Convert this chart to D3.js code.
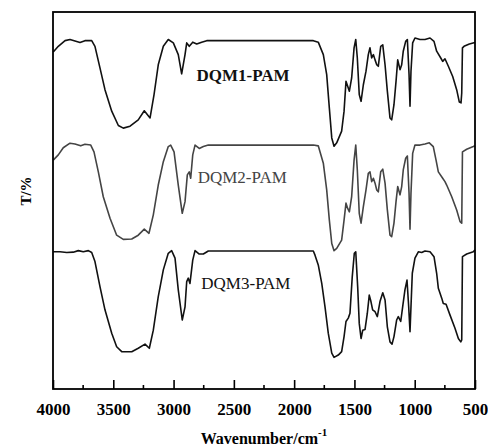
<!DOCTYPE html>
<html>
<head>
<meta charset="utf-8">
<script src="https://cdn.jsdelivr.net/npm/d3@7"></script>
<style>
    body{margin:0;background:#fff;}
    svg text{font-family:"Liberation Serif","Times New Roman",serif;}
</style>
</head>
<body>
<div class="IrPic"></div>
<script>
// 三条红外光谱 [波数, T]
let dqm1 = [[3998,89.4],[3956,90.9],[3900,92.4],[3859,92.7],[3776,91.9],[3735,92.4],[3679,92.4],[3652,90.9],
    [3610,85.1],[3569,79.4],[3513,73.7],[3458,69.9],[3417,69.2],[3361,69.7],[3293,71.4],[3243,73.8],[3195,71.9],
    [3162,78.1],[3127,86.0],[3085,90.9],[3044,92.7],[3002,91.8],[2961,88.7],[2933,83.6],[2905,88.7],[2891,91.8],
    [2870,90.9],[2841,92.0],[2808,91.5],[2767,92.0],[2725,92.4],[1841,92.4],[1800,92.0],[1758,88.7],[1730,83.4],
    [1708,74.5],[1688,66.6],[1669,64.4],[1647,65.3],[1606,68.4],[1586,73.7],[1570,81.6],[1556,80.3],[1542,79.0],
    [1523,82.5],[1503,90.5],[1489,92.7],[1476,87.8],[1460,78.1],[1445,76.3],[1426,80.7],[1404,84.3],[1385,88.7],
    [1371,90.5],[1357,87.8],[1343,88.7],[1329,87.3],[1315,86.0],[1302,85.6],[1282,90.9],[1265,91.3],[1246,86.0],
    [1227,79.0],[1205,71.9],[1191,71.4],[1172,75.4],[1155,81.6],[1141,87.3],[1122,84.7],[1108,86.0],[1095,89.6],
    [1075,92.2],[1061,92.7],[1047,83.4],[1039,75.0],[1031,84.3],[1017,91.8],[998,93.1],[956,92.7],[915,92.7],
    [873,93.1],[840,92.2],[818,89.6],[784,87.8],[768,86.9],[749,87.6],[721,85.6],[685,82.9],[652,79.4],[630,76.1],
    [616,75.9],[610,78.5],[604,90.5],[591,90.9],[547,91.5],[500,91.9]]

let dqm2 = [[3998,60.7],[3956,62.1],[3915,64.0],[3859,65.2],[3818,65.0],[3770,64.5],[3735,64.9],[3687,64.7],
    [3660,62.9],[3624,57.6],[3583,51.0],[3527,45.3],[3472,40.8],[3417,39.7],[3347,39.8],[3293,40.8],[3243,42.4],
    [3204,41.3],[3168,46.2],[3127,54.1],[3085,60.3],[3044,64.3],[3024,64.7],[2996,62.9],[2961,54.1],[2928,46.6],
    [2905,49.7],[2886,56.8],[2870,57.6],[2858,55.9],[2841,62.1],[2822,64.7],[2787,63.8],[2753,64.3],[2712,64.7],
    [1841,64.7],[1800,64.5],[1758,59.9],[1730,52.8],[1708,44.8],[1688,38.6],[1669,36.7],[1647,37.3],[1606,39.5],
    [1586,44.8],[1570,49.3],[1556,47.9],[1542,47.0],[1523,51.0],[1503,60.7],[1489,64.7],[1476,58.1],[1460,46.6],
    [1445,44.0],[1426,48.4],[1404,52.8],[1385,57.2],[1371,57.6],[1357,55.0],[1343,55.9],[1329,54.6],[1315,52.8],
    [1302,52.3],[1282,57.6],[1265,58.3],[1246,54.6],[1227,47.5],[1205,40.8],[1191,40.4],[1172,44.0],[1155,49.7],
    [1141,53.7],[1122,51.5],[1108,53.7],[1095,58.1],[1075,61.2],[1061,61.8],[1047,51.9],[1039,42.4],[1031,51.9],
    [1017,62.5],[998,64.7],[956,64.7],[915,65.0],[879,65.3],[846,64.3],[823,60.7],[804,57.6],[768,55.9],[749,55.0],
    [735,54.1],[693,51.0],[652,47.5],[624,44.4],[610,44.0],[604,62.9],[569,63.6],[514,64.3],[500,64.5]]

let dqm3 = [[3998,36.4],[3942,36.4],[3886,36.2],[3832,36.3],[3790,36.7],[3749,36.4],[3707,36.7],[3679,36.2],
    [3652,33.8],[3610,27.1],[3569,21.0],[3513,14.8],[3472,11.2],[3430,9.9],[3347,9.9],[3293,10.8],[3237,11.9],
    [3201,10.8],[3168,15.6],[3127,24.5],[3085,31.6],[3044,36.0],[3016,36.7],[2988,34.7],[2961,26.3],[2928,18.3],
    [2905,21.8],[2891,28.5],[2878,29.4],[2864,28.0],[2841,34.2],[2822,36.7],[2787,35.8],[2753,35.8],[2712,36.6],
    [1841,36.6],[1827,35.5],[1800,32.9],[1771,28.0],[1744,21.8],[1717,14.8],[1688,9.5],[1669,8.4],[1634,9.0],
    [1606,9.9],[1586,13.9],[1570,17.9],[1551,18.8],[1537,20.1],[1518,29.8],[1501,36.0],[1489,36.4],[1473,27.1],
    [1460,17.4],[1445,13.4],[1431,15.6],[1412,15.8],[1393,20.1],[1377,24.9],[1363,23.2],[1349,21.0],[1329,20.5],
    [1310,19.2],[1288,23.2],[1265,25.5],[1246,23.6],[1227,16.5],[1205,12.5],[1188,11.9],[1172,13.9],[1150,18.3],
    [1136,19.2],[1116,17.9],[1100,21.8],[1081,26.3],[1064,28.9],[1050,21.8],[1039,15.2],[1031,21.8],[1020,30.7],
    [998,34.7],[970,36.4],[942,36.2],[915,36.6],[873,36.4],[840,35.1],[818,30.7],[804,26.7],[776,24.1],[763,22.7],
    [740,22.5],[707,19.6],[666,16.1],[638,13.4],[618,12.5],[610,13.0],[604,35.1],[569,35.8],[514,36.4],[500,36.9]]

let seriesNames = ["DQM1-PAM", "DQM2-PAM", "DQM3-PAM"]
let seriesColors = ["#111", "#444", "#111"]
let majorTicks = [4000, 3500, 3000, 2500, 2000, 1500, 1000, 500]
let minorTicks = [3750, 3250, 2750, 2250, 1750, 1250, 750]

function drawIr(){
    let width = 488, height = 447
    let left = 53, right = 475, top = 12, bottom = 389

    let svg = d3.select(".IrPic")
        .append("svg")
        .attr("width", width)
        .attr("height", height)

    let x = d3.scaleLinear().domain([4000, 500]).range([left, right])
    let y = d3.scaleLinear().domain([0, 100]).range([bottom, top])

    let line = d3.line()
        .x(d => x(d[0]))
        .y(d => y(d[1]))

    svg.selectAll("path.ir")
        .data([dqm1, dqm2, dqm3])
        .enter()
        .append("path")
        .attr("class", "ir")
        .attr("d", d => line(d))
        .attr("fill", "none")
        .attr("stroke", (d, i) => seriesColors[i])
        .attr("stroke-width", 1.6)
        .attr("stroke-linejoin", "round")

    // 标签
    let labelPos = [[2810, 80.5], [2800, 183], [2770, 289]]
    svg.selectAll("text.name")
        .data(seriesNames)
        .enter()
        .append("text")
        .attr("class", "name")
        .attr("x", (d, i) => x(labelPos[i][0]))
        .attr("y", (d, i) => labelPos[i][1])
        .attr("font-size", 17)
        .attr("font-weight", (d, i) => i === 0 ? "bold" : "normal")
        .attr("fill", (d, i) => seriesColors[i])
        .text(d => d)

    // 边框
    svg.append("rect")
        .attr("x", left)
        .attr("y", top)
        .attr("width", right - left)
        .attr("height", bottom - top)
        .attr("fill", "none")
        .attr("stroke", "#000")
        .attr("stroke-width", 1.8)

    // 刻度, 向内
    let xAxis = d3.axisBottom(x)
        .tickValues(majorTicks)
        .tickFormat(d3.format("d"))
        .tickSizeInner(-9)
        .tickSizeOuter(0)
        .tickPadding(14)
    let gx = svg.append("g")
        .attr("transform", "translate(0," + bottom + ")")
        .call(xAxis)
    gx.select(".domain").remove()
    gx.selectAll("line").attr("stroke-width", 1.6)
    gx.selectAll("text")
        .attr("font-size", 17)
        .attr("font-weight", "bold")
        .attr("fill", "#000")

    svg.selectAll("line.minor")
        .data(minorTicks)
        .enter()
        .append("line")
        .attr("class", "minor")
        .attr("x1", d => x(d))
        .attr("x2", d => x(d))
        .attr("y1", bottom)
        .attr("y2", bottom - 4)
        .attr("stroke", "#000")
        .attr("stroke-width", 1.6)

    let xt = svg.append("text")
        .attr("x", 264)
        .attr("y", 444)
        .attr("text-anchor", "middle")
        .attr("font-size", 16)
        .attr("font-weight", "bold")
    xt.append("tspan").text("Wavenumber/cm")
    xt.append("tspan").attr("dy", -8).attr("font-size", 11).text("-1")

    svg.append("text")
        .attr("transform", "translate(31,191) rotate(-90)")
        .attr("text-anchor", "middle")
        .attr("font-size", 15)
        .attr("font-weight", "bold")
        .text("T/%")
}

drawIr()
</script>
</body>
</html>
